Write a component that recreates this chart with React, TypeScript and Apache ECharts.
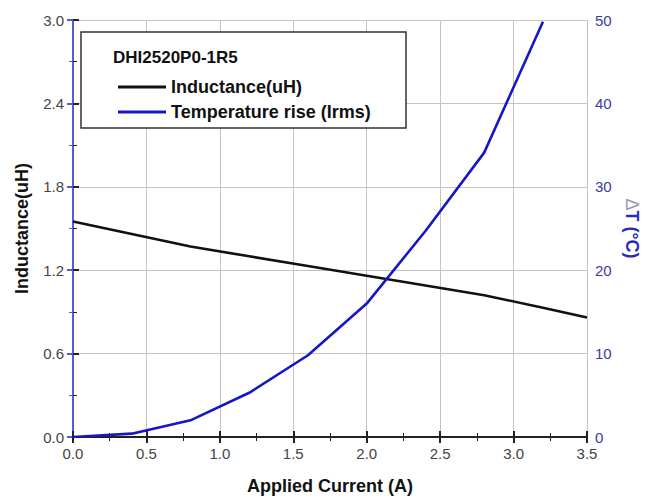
import React, { useEffect, useRef } from "react";
import * as echarts from "echarts";

const currentA = [0, 0.4, 0.8, 1.2, 1.6, 2.0, 2.4, 2.8, 3.2, 3.5];
const inductanceUH = [1.55, 1.46, 1.37, 1.3, 1.23, 1.16, 1.09, 1.02, 0.93, 0.86];
const tempCurrentA = [0, 0.4, 0.8, 1.2, 1.6, 2.0, 2.4, 2.8, 3.2];
const tempRiseC = [0, 0.4, 2.0, 5.3, 9.8, 16.0, 24.7, 34.1, 49.8];

const legendTitle = "DHI2520P0-1R5";
const seriesNames = ["Inductance(uH)", "Temperature rise (Irms)"];
const xName = "Applied Current (A)";
const yLeftName = "Inductance(uH)";
const yRightName = "{d|\u0394}T (\u00B0C)";

const FONT = "'Liberation Sans', Arial, sans-serif";
const BLUE_LINE = "#1616c4";
const BLUE_AXIS = "#5a5ad6";
const BLUE_LABEL = "#3a3aa8";
const GRID = "#c4c4c4";
const AXIS = "#222";

export default function App() {
  const ref = useRef<HTMLDivElement>(null);

  useEffect(() => {
    if (!ref.current) return;
    const chart = echarts.init(ref.current, undefined, { renderer: "svg" });
    const indData = currentA.map((x, i) => [x, inductanceUH[i]]);
    const tData = tempCurrentA.map((x, i) => [x, tempRiseC[i]]);

    const tickLabel = { fontFamily: FONT, fontSize: 15, color: "#444" };
    const hiddenParts = {
      axisLine: { show: false },
      axisTick: { show: false },
      axisLabel: { show: false },
      minorTick: { show: false },
    };
    const blackTicks = {
      axisLine: { show: true, lineStyle: { color: AXIS, width: 2 } },
      axisTick: { show: true, inside: true, length: 6, lineStyle: { color: AXIS, width: 2 } },
      minorTick: { show: true, splitNumber: 2, length: 4, lineStyle: { color: AXIS, width: 1 } },
      splitLine: { show: false },
    };

    chart.setOption({
      animation: false,
      backgroundColor: "#fff",
      textStyle: { fontFamily: FONT },
      grid: { left: 73, right: 58, top: 20, bottom: 60, outerBoundsMode: "none" },
      legend: {
        left: 113,
        top: 72,
        orient: "vertical",
        icon: "rect",
        itemWidth: 48,
        itemHeight: 3,
        itemGap: 5,
        z: 10,
        textStyle: { fontFamily: FONT, fontSize: 18, fontWeight: "bold", color: "#111", lineHeight: 20 },
        data: seriesNames,
      },
      graphic: [
        {
          type: "rect",
          z: 5,
          shape: { x: 81, y: 32, width: 325, height: 96 },
          style: { fill: "#fff", stroke: "#333", lineWidth: 1.5 },
        },
        {
          type: "text",
          z: 6,
          x: 113,
          y: 57,
          style: {
            text: legendTitle,
            fontFamily: FONT,
            fontSize: 17,
            fontWeight: "bold",
            fill: "#111",
            verticalAlign: "middle",
          },
        },
      ],
      xAxis: [
        {
          type: "value",
          position: "bottom",
          min: 0,
          max: 3.5,
          interval: 0.5,
          z: 2,
          name: xName,
          nameLocation: "middle",
          nameGap: 40,
          nameTextStyle: { fontFamily: FONT, fontSize: 18, fontWeight: "bold", color: "#111" },
          ...blackTicks,
          axisLabel: { ...tickLabel, margin: 9, formatter: (v: number) => v.toFixed(1) },
        },
        {
          type: "value",
          position: "top",
          min: 0,
          max: 3.5,
          interval: 0.5,
          z: 2,
          ...blackTicks,
          axisLabel: { show: false },
        },
        {
          type: "value",
          position: "bottom",
          min: 0,
          max: 3.5,
          interval: 0.5,
          z: 0,
          ...hiddenParts,
          splitLine: { show: true, lineStyle: { color: GRID, width: 1 } },
        },
      ],
      yAxis: [
        {
          type: "value",
          position: "left",
          min: 0,
          max: 3.0,
          interval: 0.6,
          z: 2,
          name: yLeftName,
          nameLocation: "middle",
          nameRotate: 90,
          nameGap: 42,
          nameTextStyle: { fontFamily: FONT, fontSize: 18, fontWeight: "bold", color: "#111" },
          ...blackTicks,
          axisLabel: { ...tickLabel, margin: 9, formatter: (v: number) => v.toFixed(1) },
        },
        {
          type: "value",
          position: "right",
          min: 0,
          max: 50,
          interval: 10,
          z: 2,
          name: yRightName,
          nameLocation: "middle",
          nameRotate: -90,
          nameGap: 26,
          nameTextStyle: {
            fontFamily: FONT,
            fontSize: 18,
            fontWeight: "bold",
            color: "#2a2ab8",
            rich: { d: { fontFamily: FONT, fontSize: 18, color: "#9a9ab0", fontWeight: "normal" } },
          },
          axisLine: { show: true, lineStyle: { color: BLUE_AXIS, width: 2 } },
          axisTick: { show: true, inside: true, length: 6, lineStyle: { color: BLUE_AXIS, width: 2 } },
          minorTick: { show: true, splitNumber: 2, length: 4, lineStyle: { color: BLUE_AXIS, width: 1 } },
          splitLine: { show: false },
          axisLabel: { ...tickLabel, color: BLUE_LABEL, margin: 8 },
        },
        {
          type: "value",
          position: "left",
          min: 0,
          max: 3.0,
          interval: 0.6,
          z: 0,
          ...hiddenParts,
          splitLine: { show: true, lineStyle: { color: GRID, width: 1 } },
        },
      ],
      series: [
        {
          name: seriesNames[0],
          type: "line",
          xAxisIndex: 0,
          yAxisIndex: 0,
          data: indData,
          showSymbol: false,
          symbol: "none",
          z: 3,
          lineStyle: { color: "#111", width: 2.6 },
          itemStyle: { color: "#111" },
        },
        {
          name: seriesNames[1],
          type: "line",
          xAxisIndex: 0,
          yAxisIndex: 1,
          data: tData,
          showSymbol: false,
          symbol: "none",
          z: 3,
          lineStyle: { color: BLUE_LINE, width: 2.6 },
          itemStyle: { color: BLUE_LINE },
        },
      ],
    });
    return () => chart.dispose();
  }, []);

  return (
    <div
      ref={ref}
      style={{ position: "fixed", left: 0, top: 0, width: 645, height: 497, background: "#fff" }}
    />
  );
}
